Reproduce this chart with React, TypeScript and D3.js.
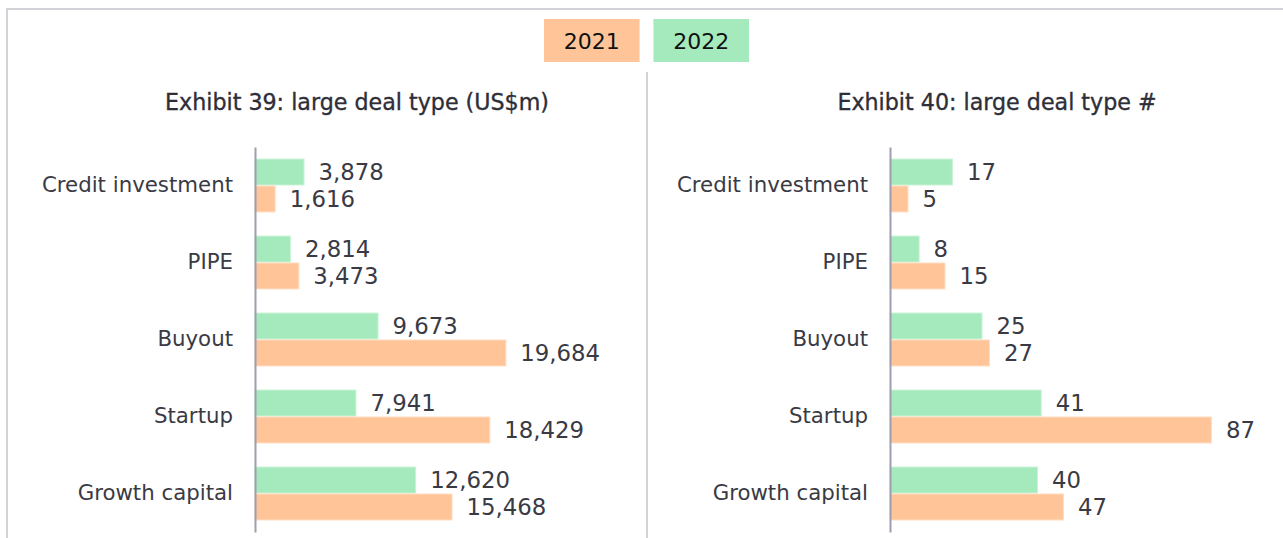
import React, { useEffect, useRef } from "react";
import * as d3 from "d3";

const categories = ["Credit investment", "PIPE", "Buyout", "Startup", "Growth capital"];
const years = ["2021", "2022"];
const value2022 = [3878, 2814, 9673, 7941, 12620];
const value2021 = [1616, 3473, 19684, 18429, 15468];
const count2022 = [17, 8, 25, 41, 40];
const count2021 = [5, 15, 27, 87, 47];
const titles = ["Exhibit 39: large deal type (US$m)", "Exhibit 40: large deal type #"];

const W = 1283;
const H = 538;
const COLORS: Record<string, string> = { "2021": "#FFC599", "2022": "#A5EABD" };
const STROKES: Record<string, string> = { "2021": "#FFDCC0", "2022": "#C8F3D6" };
const FONT = "'DejaVu Sans', sans-serif";
const TEXT = "#3a3a44";

export default function App() {
  const ref = useRef<SVGSVGElement | null>(null);

  useEffect(() => {
    const svg = d3.select(ref.current);
    svg.selectAll("*").remove();

    // outer frame (top & left)
    svg.append("path")
      .attr("d", `M7,${H} L7,9 L${W},9`)
      .attr("fill", "none")
      .attr("stroke", "#d2d2d8")
      .attr("stroke-width", 2);

    // divider
    svg.append("line")
      .attr("x1", 647).attr("x2", 647).attr("y1", 72).attr("y2", H)
      .attr("stroke", "#d2d2d8").attr("stroke-width", 2);

    // legend
    const legendX = d3.scaleBand().domain(years).range([544, 749]).paddingInner(13 / 102.5);
    const lg = svg.append("g");
    years.forEach((yr) => {
      const x = legendX(yr)!;
      lg.append("rect").attr("x", x).attr("y", 19).attr("width", legendX.bandwidth()).attr("height", 43).attr("fill", COLORS[yr]);
      lg.append("text")
        .attr("x", x + legendX.bandwidth() / 2).attr("y", 41)
        .attr("text-anchor", "middle").attr("dominant-baseline", "central")
        .attr("font-family", FONT).attr("font-size", 22).attr("fill", "#111")
        .text(yr);
    });

    const panels = [
      { title: titles[0], titleX: 357, axisX: 255, domainMax: 20000, rangeW: 255.4, v22: value2022, v21: value2021, fmt: d3.format(",") },
      { title: titles[1], titleX: 997, axisX: 890, domainMax: 100, rangeW: 370, v22: count2022, v21: count2021, fmt: d3.format("d") },
    ];

    panels.forEach((p) => {
      const g = svg.append("g");
      g.append("text")
        .attr("x", p.titleX).attr("y", 102)
        .attr("text-anchor", "middle").attr("dominant-baseline", "central")
        .attr("font-family", FONT).attr("font-size", 22.2).attr("fill", "#2e2e38")
        .attr("stroke", "#2e2e38").attr("stroke-width", 0.35)
        .text(p.title);

      const y = d3.scaleBand().domain(categories).range([147, 532]).paddingInner(0.3).paddingOuter(0.15);
      const ySub = d3.scaleBand().domain(["2022", "2021"]).range([0, y.bandwidth()]);
      const x = d3.scaleLinear().domain([0, p.domainMax]).range([p.axisX, p.axisX + p.rangeW]);

      categories.forEach((c, i) => {
        const vals: Record<string, number> = { "2022": p.v22[i], "2021": p.v21[i] };
        ["2022", "2021"].forEach((yr) => {
          const by = y(c)! + ySub(yr)!;
          const v = vals[yr];
          g.append("rect")
            .attr("x", x(0)).attr("y", by + 0.5)
            .attr("width", x(v) - x(0) - 0.5).attr("height", ySub.bandwidth() - 1)
            .attr("fill", COLORS[yr]).attr("stroke", STROKES[yr]).attr("stroke-width", 1);
          g.append("text")
            .attr("x", x(v) + 14).attr("y", by + ySub.bandwidth() / 2)
            .attr("dominant-baseline", "central")
            .attr("font-family", FONT).attr("font-size", 22.8).attr("fill", TEXT)
            .text(p.fmt(v));
        });
      });

      const axis = d3.axisLeft(y).tickSize(0).tickSizeOuter(0).tickPadding(22);
      const ag = g.append("g").attr("transform", `translate(${p.axisX},0)`).call(axis);
      ag.select(".domain").attr("stroke", "#9e9eb0").attr("stroke-width", 2);
      ag.selectAll("text")
        .attr("font-family", FONT).attr("font-size", 21.3).attr("fill", TEXT);
    });
  }, []);

  return (
    <div style={{ position: "absolute", left: 0, top: 0 }}>
      <svg ref={ref} width={W} height={H} style={{ display: "block", background: "#fff" }} />
    </div>
  );
}
